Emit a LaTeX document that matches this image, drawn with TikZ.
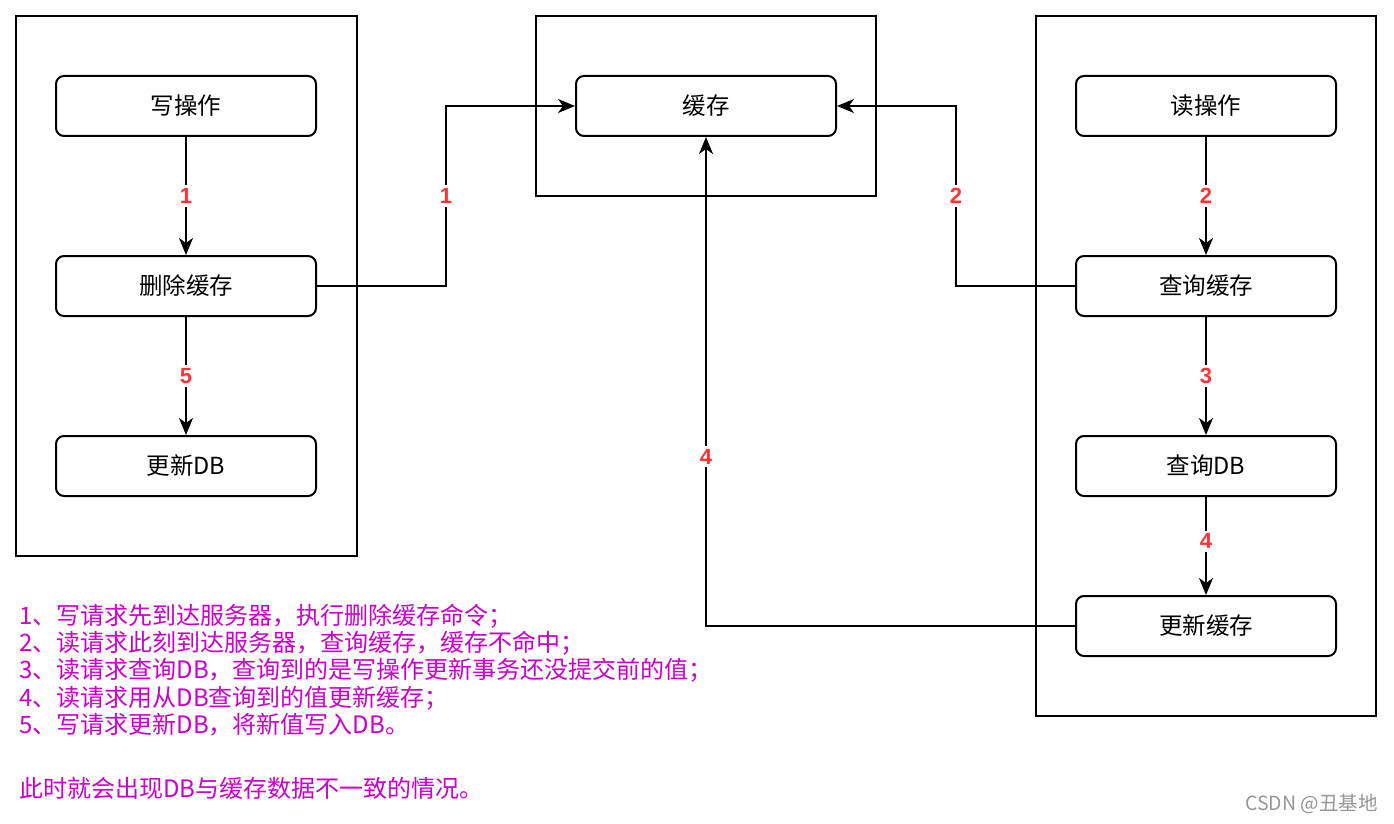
\documentclass[tikz,border=0pt]{standalone}
\usepackage{fontspec}
\setmainfont{Noto Sans CJK SC}
\newfontfamily\labfont{Liberation Sans}
\usetikzlibrary{arrows.meta}
\definecolor{labred}{RGB}{255,51,51}
\definecolor{notepurple}{RGB}{204,0,204}
\definecolor{wmgray}{RGB}{150,150,150}
\tikzset{
  container/.style={draw=black, line width=2pt, fill=none},
  opbox/.style={draw=black, line width=2pt, rounded corners=8pt, minimum width=260pt, minimum height=60pt, inner sep=0pt, font=\fontsize{23.5}{26}\selectfont, fill=white},
  flow/.style={line width=2pt, -{Stealth[length=17pt,width=14pt,inset=5pt]}},
  steplabel/.style={fill=white, text=labred, font=\labfont\bfseries\fontsize{22}{26}\selectfont, inner sep=3pt},
  note/.style={anchor=west, text=notepurple, font=\fontsize{24}{27}\selectfont, inner sep=0pt}
}
\begin{document}
\begin{tikzpicture}[x=1pt,y=-1pt]
\useasboundingbox (0,0) rectangle (1394,824);
\fill[white] (0,0) rectangle (1394,824);
% containers
\draw[container] (16,16) rectangle (357,556);
\draw[container] (536,16) rectangle (876,196);
\draw[container] (1036,16) rectangle (1376,716);
% left boxes
\node[opbox] (w1) at (186,106) {写操作};
\node[opbox] (w2) at (186,286) {删除缓存};
\node[opbox] (w3) at (186,466) {更新DB};
% middle
\node[opbox] (c) at (706,106) {缓存};
% right
\node[opbox] (r1) at (1206,106) {读操作};
\node[opbox] (r2) at (1206,286) {查询缓存};
\node[opbox] (r3) at (1206,466) {查询DB};
\node[opbox] (r4) at (1206,626) {更新缓存};
% left flow
\draw[flow] (w1) -- node[steplabel] {1} (w2);
\draw[flow] (w2) -- node[steplabel] {5} (w3);
% right flow
\draw[flow] (r1) -- node[steplabel] {2} (r2);
\draw[flow] (r2) -- node[steplabel] {3} (r3);
\draw[flow] (r3) -- node[steplabel, pos=0.45] {4} (r4);
% cross connectors
\draw[flow] (w2.east) -| node[steplabel, pos=0.75] {1} (446,106) -- (c.west);
\draw[flow] (r2.west) -| node[steplabel, pos=0.75] {2} (956,106) -- (c.east);
\draw[flow] (r4.west) -| node[steplabel, pos=0.673] {4} (c.south);
% notes
\node[note] (n1) at (19,616) {1、写请求先到达服务器，执行删除缓存命令；};
\node[note] (n2) at (19,643) {2、读请求此刻到达服务器，查询缓存，缓存不命中；};
\node[note] (n3) at (19,670) {3、读请求查询DB，查询到的是写操作更新事务还没提交前的值；};
\node[note] (n4) at (19,698) {4、读请求用从DB查询到的值更新缓存；};
\node[note] (n5) at (19,725) {5、写请求更新DB，将新值写入DB。};
\node[note] (n6) at (19,788) {此时就会出现DB与缓存数据不一致的情况。};
% watermark
\node[anchor=east, text=wmgray, font=\fontsize{19.5}{22}\selectfont, inner sep=0pt] (wm) at (1378,804) {CSDN @丑基地};
\end{tikzpicture}
\end{document}
